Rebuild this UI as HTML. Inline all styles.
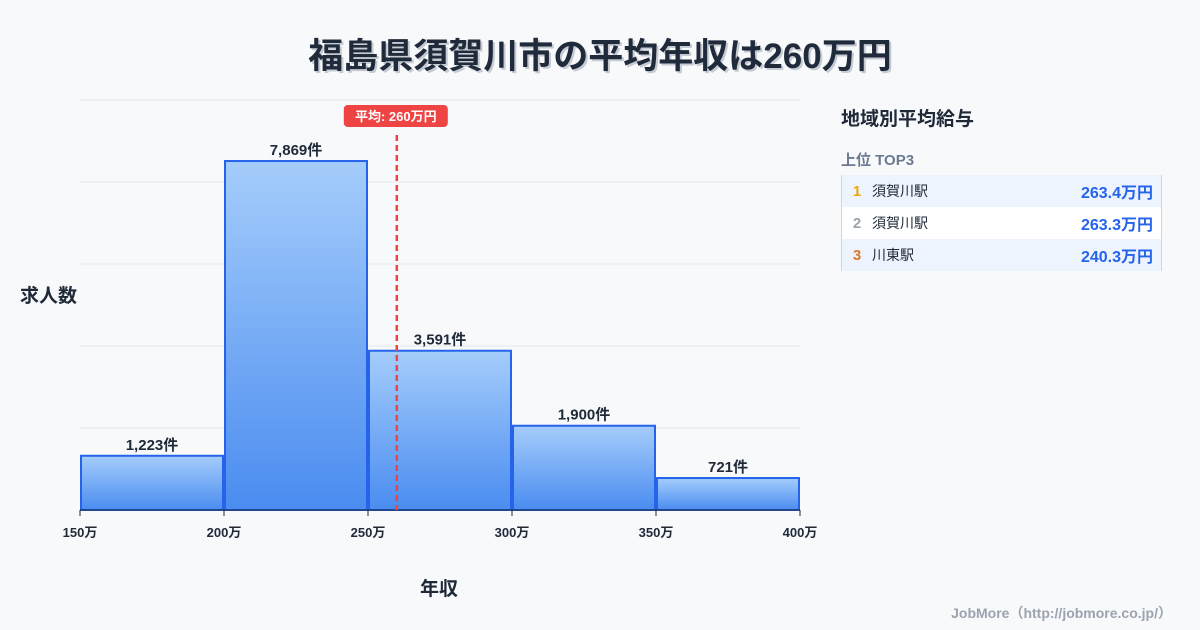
<!DOCTYPE html>
<html><head><meta charset="utf-8"><style>
body{margin:0;width:1200px;height:630px;background:#f8f9fb;font-family:"Liberation Sans","Noto Sans CJK JP",sans-serif;overflow:hidden;position:relative;color:#1f2937}
.t{position:absolute}
</style></head><body>
<div class="t" style="left:0;width:1200px;top:28px;text-align:center;font-size:35px;font-weight:bold;color:#1f2a3a;text-shadow:2px 2px 0 #c5cad3">福島県須賀川市の平均年収は260万円</div>
<svg id="c" width="1200" height="630" style="position:absolute;left:0;top:0"></svg>
<div class="t" style="left:20px;top:281px;font-size:19px;font-weight:bold">求人数</div>
<div class="t" style="left:420px;top:574px;font-size:19px;font-weight:bold">年収</div>
<div class="t" style="left:841px;top:104px;font-size:19px;font-weight:bold">地域別平均給与</div>
<div class="t" style="left:841px;top:149px;font-size:15px;font-weight:bold;color:#6b7a90">上位 TOP3</div>
<div class="t" style="left:841px;top:175px;width:319px;border-left:1px solid #cfd6e0;border-right:1px solid #cfd6e0;font-size:14px">
 <div style="height:32px;background:#edf4fe;display:flex;align-items:center"><span style="width:30px;text-align:center;color:#e8a90c;font-size:15px;font-weight:bold">1</span><span style="flex:1">須賀川駅</span><span style="color:#2563eb;font-weight:bold;font-size:16px;padding-right:8px">263.4万円</span></div>
 <div style="height:32px;background:#fff;display:flex;align-items:center"><span style="width:30px;text-align:center;color:#9aa3ae;font-size:15px;font-weight:bold">2</span><span style="flex:1">須賀川駅</span><span style="color:#2563eb;font-weight:bold;font-size:16px;padding-right:8px">263.3万円</span></div>
 <div style="height:32px;background:#edf4fe;display:flex;align-items:center"><span style="width:30px;text-align:center;color:#d9782b;font-size:15px;font-weight:bold">3</span><span style="flex:1">川東駅</span><span style="color:#2563eb;font-weight:bold;font-size:16px;padding-right:8px">240.3万円</span></div>
</div>
<div class="t" style="right:28px;top:603px;font-size:14px;font-weight:bold;color:#9aa3ae">JobMore（http://jobmore.co.jp/）</div>
<script>
const binEdges=[150,200,250,300,350,400];
const counts=[1223,7869,3591,1900,721];
const countLabels=["1,223件","7,869件","3,591件","1,900件","721件"];
const xTicks=["150万","200万","250万","300万","350万","400万"];
const meanValue=260;
const meanLabel="平均: 260万円";
const yMax=9245;
const svg=document.getElementById('c');const NS='http://www.w3.org/2000/svg';
const X=v=>80+(v-150)*(720/250);
const Y=v=>510-v*(410/yMax);
function mk(t,a,p){const e=document.createElementNS(NS,t);for(const k in a)e.setAttribute(k,a[k]);(p||svg).appendChild(e);return e;}
const defs=mk('defs',{});
const g=mk('linearGradient',{id:'bg',x1:0,y1:0,x2:0,y2:1},defs);
mk('stop',{offset:0,'stop-color':'#a5cdfb'},g);mk('stop',{offset:1,'stop-color':'#4a8cf0'},g);
for(let i=0;i<=5;i++){const l=mk('line',{x1:80,x2:800,y1:510-82*i,y2:510-82*i,stroke:'#e3e7ed'});

}
counts.forEach((c,i)=>{const x0=X(binEdges[i])+1,x1=X(binEdges[i+1])-1;
const r=mk('rect',{x:x0,y:Y(c),width:x1-x0,height:510-Y(c),fill:'url(#bg)',stroke:'#2563eb','stroke-width':2});


const t=mk('text',{x:(x0+x1)/2,y:Y(c)-6,'text-anchor':'middle','font-size':15,'font-weight':'bold',fill:'#1f2937'});t.textContent=countLabels[i];

});
mk('line',{x1:80,x2:800,y1:510,y2:510,stroke:'#1f2937'});
xTicks.forEach((s,i)=>{const x=X(binEdges[i]);mk('line',{x1:x,x2:x,y1:510,y2:516,stroke:'#1f2937'});
const t=mk('text',{x:x,y:537,'text-anchor':'middle','font-size':13,'font-weight':'bold',fill:'#1f2937'});t.textContent=s;

});
const mx=X(meanValue);
const ml=mk('line',{x1:mx,x2:mx,y1:135,y2:510,stroke:'#ef4444','stroke-width':2.5,'stroke-dasharray':'6,4'});


const mb=mk('rect',{x:mx-53,y:105,width:104,height:22,rx:4,fill:'#ef4444'});


const mt=mk('text',{x:mx-1,y:121,'text-anchor':'middle','font-size':13,'font-weight':'bold',fill:'#fff'});mt.textContent=meanLabel;


</script>
</body></html>
